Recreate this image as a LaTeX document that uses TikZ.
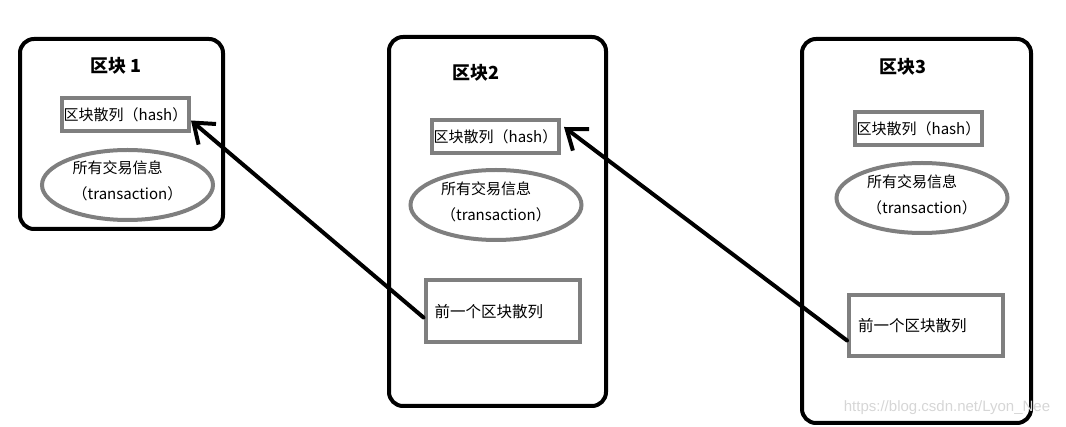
\documentclass[tikz,border=0pt]{standalone}
\usepackage{fontspec}
\setmainfont{Noto Sans CJK SC}
\newfontfamily\wmfont{Liberation Sans}
\usetikzlibrary{shapes.geometric, arrows.meta}
\definecolor{boxgray}{RGB}{127,127,127}
\definecolor{wmgray}{RGB}{214,214,214}
\tikzset{
    blockbox/.style={draw, rectangle, rounded corners=14pt, line width=4pt},
    blocktitle/.style={font=\fontsize{18}{20}\selectfont\bfseries},
    hashbox/.style={draw=boxgray, rectangle, line width=4pt, minimum width=127pt, minimum height=33pt, inner sep=0pt, font=\fontsize{15}{18}\selectfont},
    txbox/.style={draw=boxgray, ellipse, line width=4pt, minimum width=171pt, minimum height=70pt, inner sep=0pt},
    txtext/.style={align=left, inner sep=0pt, font=\fontsize{15}{26}\selectfont},
    prevbox/.style={draw=boxgray, rectangle, line width=4pt, text width=136pt, inner xsep=9pt, minimum height=62pt, align=left, font=\fontsize{15.5}{18}\selectfont},
    handarrow/.style={line width=4pt, line cap=round, -{Straight Barb[length=18pt, width=27pt]}}
}
\begin{document}
\begin{tikzpicture}[x=1pt, y=-1pt]
\useasboundingbox (0,0) rectangle (1066,427);
\node[blockbox, minimum width=203pt, minimum height=190pt] (block1) at (121.5,134) {};
\node[blockbox, minimum width=217pt, minimum height=369pt] (block2) at (497.5,221.5) {};
\node[blockbox, minimum width=229pt, minimum height=384pt] (block3) at (916.5,231) {};
\node[blocktitle] (title1) at (116,66) {区块 1};
\node[blocktitle] (title2) at (476,73) {区块2};
\node[blocktitle] (title3) at (903,67) {区块3};
\node[hashbox] (hash1) at (125.5,114.5) {区块散列（hash）};
\node[hashbox] (hash2) at (495.5,137) {区块散列（hash）};
\node[hashbox] (hash3) at (918.5,128.5) {区块散列（hash）};
\node[txbox] (tx1) at (127.5,185) {};
\node[txbox] (tx2) at (496,205) {};
\node[txbox] (tx3) at (922,198) {};
\node[txtext] (txt1) at ([yshift=4pt]tx1.center) {所有交易信息\\（transaction）};
\node[txtext] (txt2) at ([yshift=3pt]tx2.center) {所有交易信息\\（transaction）};
\node[txtext] (txt3) at ([yshift=3pt]tx3.center) {所有交易信息\\（transaction）};
\node[prevbox] (prev2) at (502.5,311.5) {前一个区块散列};
\node[prevbox, minimum height=61pt] (prev3) at (926,325.5) {前一个区块散列};
\draw[handarrow] ([yshift=-6pt]prev2.west) -- ([yshift=-6pt]hash1.east);
\draw[handarrow] ([yshift=-15pt]prev3.west) -- ([xshift=3pt, yshift=10pt]hash2.east);
\node[font=\wmfont\fontsize{15}{18}\selectfont, text=wmgray] (mark) at (947,408) {https://blog.csdn.net/Lyon\_Nee};
\end{tikzpicture}
\end{document}
